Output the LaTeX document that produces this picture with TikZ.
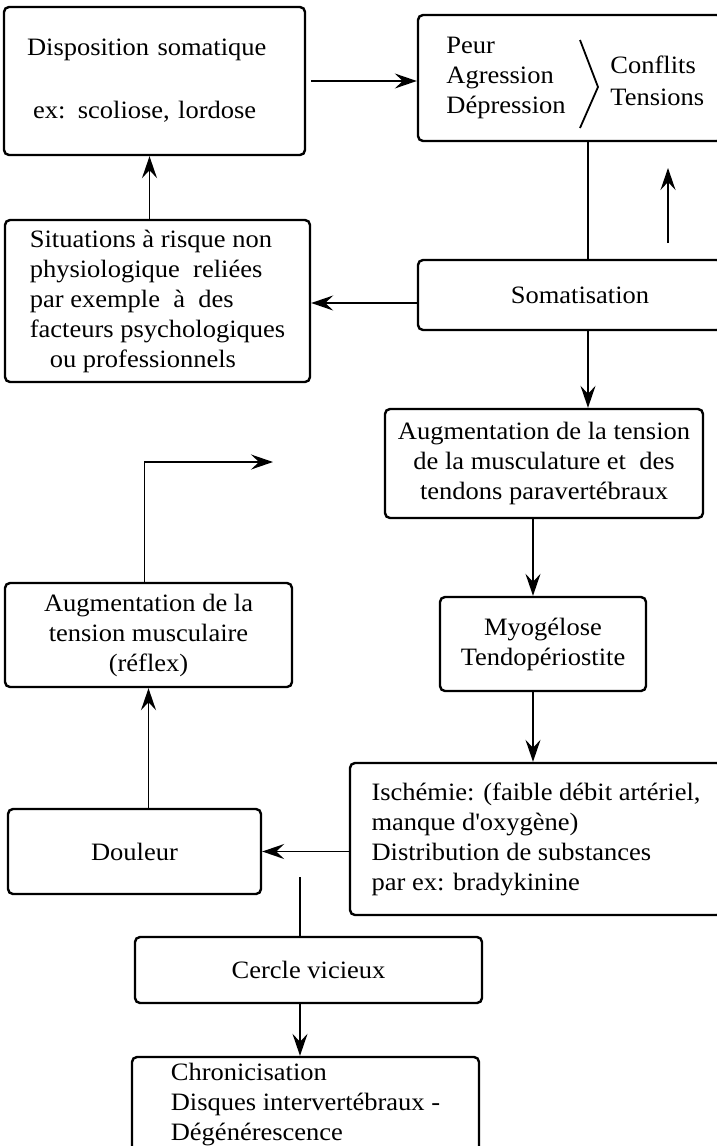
\documentclass[tikz,border=0pt]{standalone}
\usepackage{fontspec}
\setmainfont[FakeStretch=1.06]{Liberation Serif}
\usetikzlibrary{positioning, arrows.meta, calc}

\begin{document}
\begin{tikzpicture}[
    x=0.5pt, y=-0.5pt,
    % Custom styles for the boxes and the texts
    box/.style={draw, rounded corners=2.5pt, line width=1.2pt, inner sep=0pt,
        font=\fontsize{12.5}{15}\selectfont},
    txt/.style={inner sep=0pt, font=\fontsize{12.5}{15}\selectfont},
    % Connectors of the scheme
    arr/.style={-{Stealth[length=11pt, width=7.5pt, inset=4pt]}, line width=0.9pt},
    link/.style={line width=0.9pt}
]
\useasboundingbox (0,0) rectangle (717,1146);

% ==========================================
% TOP: DISPOSITION AND EMOTIONS
% ==========================================
\node[box, minimum width=150.5pt, minimum height=74pt, text width=127.5pt, align=left] (dispo) at (154.5,81)
    {Disposition somatique\\[16.5pt]\hspace{3pt}ex: scoliose, lordose};

% The box with the two groups of words and the chevron
\node[box, minimum width=152pt, minimum height=63pt] (peur) at (570,78) {};
\node[txt, align=left, anchor=west] (emot) at (446,78) {Peur\\Agression\\D\'epression};
\node[txt, align=left, anchor=west] (confl) at (610,81) {Conflits\\[1pt]Tensions};
\draw[link] (580,40) -- (598,87) -- (580,128);

\node[box, minimum width=152.5pt, minimum height=81pt, align=left] (situ) at (157.5,301)
    {Situations \`a risque non\\physiologique\ \ reli\'ees\\par exemple\ \ \`a\ \ des\\
     facteurs psychologiques\\\hspace{10pt}ou professionnels};

\node[box, minimum width=152pt, minimum height=35pt] (somat) at (570,295) {\hspace{10pt}Somatisation};

% ==========================================
% MIDDLE: MUSCLES AND TENDONS
% ==========================================
\node[box, minimum width=159pt, minimum height=54.5pt, align=center] (augt) at (544,463.5)
    {Augmentation de la tension\\de la musculature et\ \ des\\tendons paravert\'ebraux};

\node[box, minimum width=143.5pt, minimum height=52pt, align=center] (augr) at (148.5,635)
    {Augmentation de la\\tension musculaire\\(r\'eflex)};

\node[box, minimum width=103pt, minimum height=47pt, align=center] (myo) at (543,644)
    {Myog\'elose\\Tendop\'eriostite};

% ==========================================
% BOTTOM: PAIN AND VICIOUS CIRCLE
% ==========================================
\node[box, minimum width=186pt, minimum height=76pt, align=left] (isch) at (536,839)
    {Isch\'emie: (faible d\'ebit art\'eriel,\\manque d\textquotesingle oxyg\`ene)\\
     Distribution de substances\\par ex: bradykinine};

\node[box, minimum width=126.5pt, minimum height=42.5pt] (doul) at (134.5,851.5) {Douleur};

\node[box, minimum width=173.5pt, minimum height=33pt] (cercle) at (308.5,970) {Cercle vicieux};

\node[box, minimum width=173.5pt, minimum height=47.5pt, align=left] (chron) at (305.5,1104.5)
    {Chronicisation\\Disques intervert\'ebraux -\\D\'eg\'en\'erescence};

% ==========================================
% CONNECTORS
% ==========================================
\coordinate (spineA) at (588,0);
\coordinate (spineB) at (533,0);
\coordinate (upFrom) at (668,243);
\coordinate (upTo) at (668,168);
\coordinate (loopEnd) at (273,462);
\coordinate (cvTop) at (300,877);

\draw[arr, shorten <=2.5pt] (dispo.east) -- (dispo.east -| peur.west);
\draw[link] (peur.south -| spineA) -- (somat.north -| spineA);
\draw[arr] (upFrom) -- (upTo);
\draw[arr] ([yshift=-4pt]somat.west) -- ([yshift=-4pt]somat.west -| situ.east);
\draw[arr] ([xshift=-4pt]situ.north) -- ([xshift=-4pt]situ.north |- dispo.south);
\draw[arr] (somat.south -| spineA) -- (augt.north -| spineA);
\draw[arr] (augt.south -| spineB) -- (myo.north -| spineB);
\draw[arr] (myo.south -| spineB) -- (isch.north -| spineB);
\draw[arr] (isch.west |- doul.east) -- (doul.east);
\draw[arr] (doul.north -| augr.south) -- (augr.south);
\draw[arr] ([xshift=-2pt]augr.north) |- (loopEnd);
\draw[link] (cvTop) -- (cvTop |- cercle.north);
\draw[arr] (cercle.south -| cvTop) -- (chron.north -| cvTop);

\end{tikzpicture}
\end{document}
